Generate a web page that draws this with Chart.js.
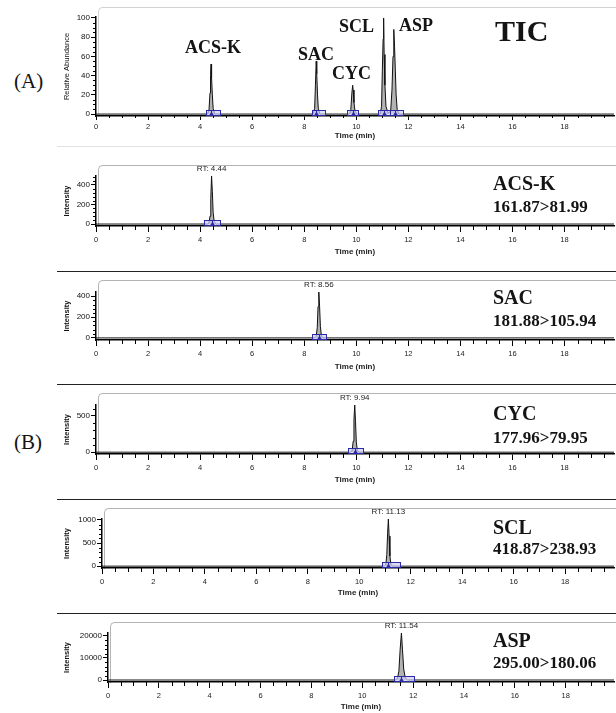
<!DOCTYPE html>
<html>
<head>
<meta charset="utf-8">
<script src="https://cdn.jsdelivr.net/npm/chart.js@4.4.1/dist/chart.umd.min.js"></script>
<style>
html, body { margin: 0; padding: 0; background: #fff; }
#page { position: relative; width: 616px; height: 713px; overflow: hidden; background: #fff; }
#page canvas { position: absolute; }
.frame { position: absolute; width: 700px; border-top: 1px solid #b4b4b4; border-left: 1px solid #b4b4b4; border-top-left-radius: 5px; }
.sep { position: absolute; left: 57px; width: 559px; height: 1px; background: #222; }
.lbl { position: absolute; font-family: "Liberation Serif", "Times New Roman", serif; font-weight: bold; color: #141414; line-height: 1; transform: translateY(-50%); white-space: nowrap; }
</style>
</head>
<body>
<div id="page"></div>
<script>
// traces (time in min, signal)
const ticTime  = [0, 4.28, 4.34, 4.38, 4.40, 4.42, 4.44, 4.47, 4.50, 4.56, 8.34, 8.40, 8.43, 8.46, 8.48, 8.51, 8.54, 8.60, 9.74, 9.79, 9.83, 9.86, 9.88, 9.91, 9.95, 10.02, 10.92, 10.97, 11.00, 11.03, 11.05, 11.07, 11.10, 11.14, 11.22, 11.32, 11.37, 11.41, 11.44, 11.47, 11.50, 11.53, 11.57, 11.64, 19.9];
const ticAbund = [0, 0, 4, 22, 40, 52, 38, 20, 6, 0, 0, 6, 30, 55, 42, 20, 6, 0, 0, 5, 22, 30, 25, 12, 3, 0, 0, 8, 45, 78, 100, 62, 30, 8, 1, 3, 25, 60, 88, 70, 45, 20, 5, 0, 0];

const acskTime = [0, 4.28, 4.34, 4.38, 4.41, 4.44, 4.47, 4.50, 4.54, 4.60, 19.9];
const acskInt  = [0, 0, 10, 80, 260, 490, 330, 120, 25, 0, 0];
const sacTime  = [0, 8.40, 8.46, 8.50, 8.53, 8.56, 8.59, 8.62, 8.66, 8.72, 19.9];
const sacInt   = [0, 0, 15, 100, 300, 440, 300, 110, 20, 0, 0];
const cycTime  = [0, 9.78, 9.84, 9.88, 9.91, 9.94, 9.97, 10.00, 10.04, 10.10, 19.9];
const cycInt   = [0, 0, 20, 150, 450, 650, 420, 140, 25, 0, 0];
const sclTime  = [0, 10.97, 11.03, 11.07, 11.10, 11.13, 11.16, 11.19, 11.23, 11.30, 19.9];
const sclInt   = [0, 0, 30, 250, 700, 1020, 650, 220, 40, 0, 0];
const aspTime  = [0, 11.30, 11.38, 11.44, 11.49, 11.54, 11.58, 11.63, 11.69, 11.78, 19.9];
const aspInt   = [0, 0, 600, 4000, 14000, 21300, 14000, 5000, 1000, 0, 0];

// integration windows [start, apex, end]
const ticWindows  = [[4.22, 4.42, 4.75], [8.30, 8.46, 8.78], [9.66, 9.86, 10.08], [10.85, 11.05, 11.30], [11.30, 11.47, 11.80]];
const acskWindow  = [4.15, 4.44, 4.75];
const sacWindow   = [8.30, 8.56, 8.85];
const cycWindow   = [9.70, 9.94, 10.25];
const sclWindow   = [10.90, 11.13, 11.60];
const aspWindow   = [11.25, 11.54, 12.02];

// tick labels
const timeTicks = [0, 2, 4, 6, 8, 10, 12, 14, 16, 18];
const ticTicks  = [0, 20, 40, 60, 80, 100];
const acskTicks = [0, 200, 400];
const sacTicks  = [0, 200, 400];
const cycTicks  = [0, 500];
const sclTicks  = [0, 500, 1000];
const aspTicks  = [0, 10000, 20000];

const compounds   = ['ACS-K', 'SAC', 'CYC', 'SCL', 'ASP'];
const transitions = ['161.87>81.99', '181.88>105.94', '177.96>79.95', '418.87>238.93', '295.00>180.06'];
const rtLabels    = ['RT: 4.44', 'RT: 8.56', 'RT: 9.94', 'RT: 11.13', 'RT: 11.54'];
const timeMax = 19.9;

const family = '"Liberation Sans", Arial, sans-serif';
const page = document.getElementById('page');

// minor ticks, integration boxes and RT label
const decor = {
    id: 'decor',
    afterDraw(chart, args, o) {
        const ctx = chart.ctx, xs = chart.scales.x, ys = chart.scales.y, a = chart.chartArea;
        ctx.save();
        ctx.strokeStyle = '#000';
        ctx.lineWidth = 1;
        ctx.beginPath();
        for (let i = 1; i * o.xMinor < xs.max; i++) {
            if (i % o.xEvery === 0) continue;
            const px = Math.round(xs.getPixelForValue(i * o.xMinor)) + 0.5;
            ctx.moveTo(px, a.bottom);
            ctx.lineTo(px, a.bottom + o.xLen);
        }
        for (let i = 1; i * o.yMinor < ys.max; i++) {
            if (i % o.yEvery === 0) continue;
            const py = Math.round(ys.getPixelForValue(i * o.yMinor)) + 0.5;
            ctx.moveTo(a.left - 3, py);
            ctx.lineTo(a.left, py);
        }
        ctx.stroke();

        const y0 = Math.round(ys.getPixelForValue(0)) + 0.5;
        o.windows.forEach(w => {
            const x1 = Math.round(xs.getPixelForValue(w[0])) + 0.5;
            const xm = Math.round(xs.getPixelForValue(w[1])) + 0.5;
            const x2 = Math.round(xs.getPixelForValue(w[2])) + 0.5;
            ctx.fillStyle = 'rgba(205,205,245,0.7)';
            ctx.fillRect(x1, y0 - 4, x2 - x1, 5);
            ctx.strokeStyle = '#2b2ba5';
            ctx.strokeRect(x1, y0 - 4, x2 - x1, 5);
            ctx.beginPath();
            ctx.moveTo(xm, y0 - 4);
            ctx.lineTo(xm, y0 + 1);
            ctx.stroke();
            ctx.fillStyle = '#2b2ba5';
            ctx.beginPath();
            ctx.moveTo(xm - 2.5, y0 + 1);
            ctx.lineTo(xm + 2.5, y0 + 1);
            ctx.lineTo(xm, y0 - 3);
            ctx.fill();
        });

        if (o.rt) {
            const pts = chart.data.datasets[0].data;
            let top = pts[0];
            pts.forEach(p => { if (p.y > top.y) top = p; });
            ctx.fillStyle = '#222';
            ctx.font = '8px ' + family;
            ctx.textAlign = 'center';
            ctx.textBaseline = 'middle';
            ctx.fillText(o.rt, xs.getPixelForValue(top.x), ys.getPixelForValue(top.y) - 7);
        }
        ctx.restore();
    }
};

const panels = [
    { time: ticTime, val: ticAbund, windows: ticWindows, rt: null, yTicks: ticTicks, yTitle: 'Relative Abundance', yBold: false,
      axisTop: 17, axisLeft: 96, yMin: -2, yMax: 101, yStep: 20, yMinor: 5, xTick: 4, xLen: 2, xPad: 2, xH: 25, frameTop: 7 },
    { time: acskTime, val: acskInt, windows: [acskWindow], rt: rtLabels[0], yTicks: acskTicks, yTitle: 'Intensity', yBold: true,
      axisTop: 176, axisLeft: 96, yMin: -20, yMax: 490, yStep: 200, yMinor: 40, xTick: 6, xLen: 4, xPad: 3, xH: 31, frameTop: 165 },
    { time: sacTime, val: sacInt, windows: [sacWindow], rt: rtLabels[1], yTicks: sacTicks, yTitle: 'Intensity', yBold: true,
      axisTop: 292, axisLeft: 96, yMin: -20, yMax: 440, yStep: 200, yMinor: 40, xTick: 6, xLen: 4, xPad: 3, xH: 32, frameTop: 280 },
    { time: cycTime, val: cycInt, windows: [cycWindow], rt: rtLabels[2], yTicks: cycTicks, yTitle: 'Intensity', yBold: true,
      axisTop: 405, axisLeft: 96, yMin: -25, yMax: 650, yStep: 500, yMinor: 100, xTick: 6, xLen: 4, xPad: 3, xH: 31, frameTop: 393 },
    { time: sclTime, val: sclInt, windows: [sclWindow], rt: rtLabels[3], yTicks: sclTicks, yTitle: 'Intensity', yBold: true,
      axisTop: 519, axisLeft: 102, yMin: -40, yMax: 1020, yStep: 500, yMinor: 100, xTick: 6, xLen: 4, xPad: 3, xH: 30, frameTop: 508 },
    { time: aspTime, val: aspInt, windows: [aspWindow], rt: rtLabels[4], yTicks: aspTicks, yTitle: 'Intensity', yBold: true,
      axisTop: 633, axisLeft: 108, yMin: -900, yMax: 21300, yStep: 10000, yMinor: 2000, xTick: 6, xLen: 4, xPad: 3, xH: 30, frameTop: 622 }
];
const axisBottoms = [116, 226, 340, 454, 568, 682];

function addDiv(cls, css, text) {
    const d = document.createElement('div');
    d.className = cls;
    Object.assign(d.style, css);
    if (text) d.textContent = text;
    page.appendChild(d);
    return d;
}

panels.forEach((p, k) => {
    const bottom = axisBottoms[k];
    addDiv('frame', { left: (p.axisLeft + 2) + 'px', top: p.frameTop + 'px', height: (bottom - p.frameTop) + 'px',
        borderColor: k === 0 ? '#d2d2d2' : '#b4b4b4' });

    const cv = document.createElement('canvas');
    const top = p.axisTop - 16;
    const h = bottom - top + p.xH;
    cv.width = 558; cv.height = h;
    cv.style.left = '58px'; cv.style.top = top + 'px';
    cv.style.width = '558px'; cv.style.height = h + 'px';
    page.appendChild(cv);

    new Chart(cv, {
        type: 'line',
        data: {
            datasets: [{
                data: p.time.map((t, i) => ({ x: t, y: p.val[i] })),
                borderColor: '#111',
                borderWidth: 1,
                backgroundColor: '#b3b3b3',
                fill: 'origin',
                pointRadius: 0,
                tension: 0
            }]
        },
        options: {
            responsive: false,
            animation: false,
            devicePixelRatio: 1,
            layout: { padding: { top: 16, right: 2, left: 0, bottom: 0 } },
            plugins: {
                legend: { display: false },
                tooltip: { enabled: false },
                decor: { xMinor: 0.5, xEvery: 4, xLen: p.xLen, yMinor: p.yMinor, yEvery: Math.round(p.yStep / p.yMinor),
                         windows: p.windows, rt: p.rt }
            },
            scales: {
                x: {
                    type: 'linear', min: 0, max: timeMax,
                    afterBuildTicks: s => { s.ticks = timeTicks.map(v => ({ value: v })); },
                    afterFit: s => { s.height = p.xH; },
                    border: { color: '#000', width: 1.5 },
                    grid: { drawOnChartArea: false, tickLength: p.xTick, tickColor: '#000' },
                    ticks: { autoSkip: false, maxRotation: 0, padding: p.xPad,
                             color: '#222', font: { size: 7.5, family: family }, callback: v => String(v) },
                    title: { display: true, text: 'Time (min)', color: '#222', padding: 0,
                             font: { size: 8, weight: 'bold', family: family } }
                },
                y: {
                    min: p.yMin, max: p.yMax,
                    afterBuildTicks: s => { s.ticks = p.yTicks.map(v => ({ value: v })); },
                    afterFit: s => { s.width = p.axisLeft - 58; },
                    border: { color: '#000', width: 1.5 },
                    grid: { drawOnChartArea: false, tickLength: 5, tickColor: '#000' },
                    ticks: { autoSkip: false, padding: 1, color: '#111',
                             font: { size: 8, family: family }, callback: v => String(v) },
                    title: { display: true, text: p.yTitle, color: '#111', padding: { top: 4, bottom: 0 },
                             font: { size: 7.5, weight: p.yBold ? 'bold' : 'normal', family: family } }
                }
            }
        },
        plugins: [decor]
    });
});

// panel separators
addDiv('sep', { top: '146px', background: '#e2e2e2' });
[271, 384, 499, 613].forEach(y => addDiv('sep', { top: y + 'px' }));

// TIC annotations
addDiv('lbl', { left: '14px', top: '81px', fontSize: '21px', fontWeight: 'normal' }, '(A)');
addDiv('lbl', { left: '14px', top: '442px', fontSize: '21px', fontWeight: 'normal' }, '(B)');
addDiv('lbl', { left: '185px', top: '47px', fontSize: '18px' }, compounds[0]);
addDiv('lbl', { left: '298px', top: '54px', fontSize: '18px' }, compounds[1]);
addDiv('lbl', { left: '332px', top: '73px', fontSize: '18px' }, compounds[2]);
addDiv('lbl', { left: '339px', top: '26px', fontSize: '18px' }, compounds[3]);
addDiv('lbl', { left: '399px', top: '25px', fontSize: '18px' }, compounds[4]);
addDiv('lbl', { left: '495px', top: '31px', fontSize: '30px' }, 'TIC');

// SRM panel labels
const nameY = [183, 297, 413, 527, 640];
const transY = [206, 320, 437, 548, 662];
compounds.forEach((c, i) => {
    addDiv('lbl', { left: '493px', top: nameY[i] + 'px', fontSize: '20px' }, c);
    addDiv('lbl', { left: '493px', top: transY[i] + 'px', fontSize: '17px' }, transitions[i]);
});
</script>
</body>
</html>
